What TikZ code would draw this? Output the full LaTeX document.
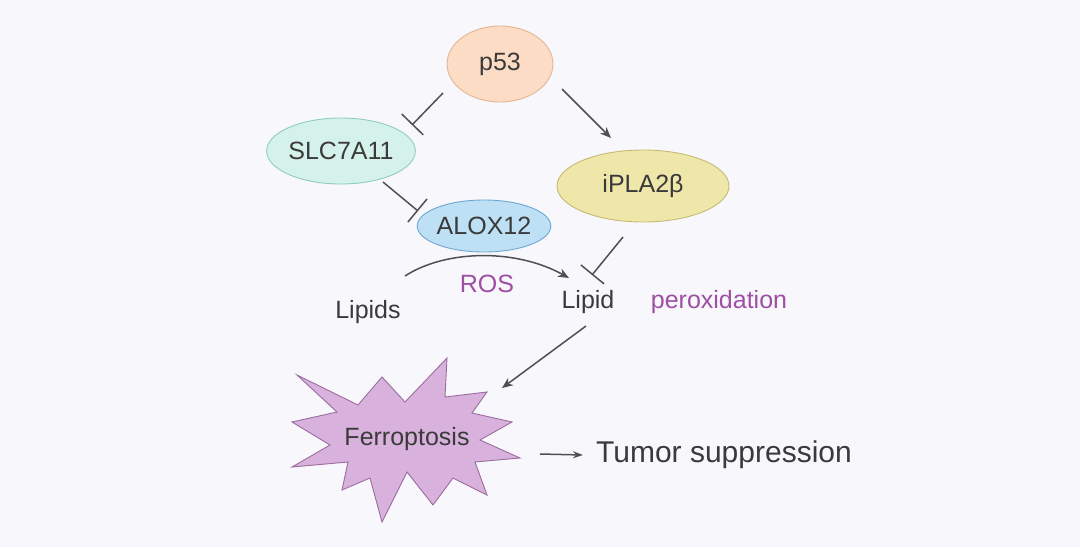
\documentclass[tikz,border=0pt]{standalone}
\usepackage{fontspec}
\setmainfont{Liberation Sans}
\usetikzlibrary{shapes.geometric,arrows.meta,calc}
\definecolor{bg}{HTML}{F8F8FC}
\definecolor{txt}{HTML}{3A3A3A}
\definecolor{ln}{HTML}{505050}
\definecolor{purp}{HTML}{9E4FA3}
\definecolor{peachF}{HTML}{FCDCC4}\definecolor{peachD}{HTML}{E2B595}
\definecolor{mintF}{HTML}{D5F2EA}\definecolor{mintD}{HTML}{8ECDBC}
\definecolor{blueF}{HTML}{BEE0F5}\definecolor{blueD}{HTML}{6FA7CF}
\definecolor{khakiF}{HTML}{EFE6AA}\definecolor{khakiD}{HTML}{C6BA72}
\definecolor{starF}{HTML}{D8B2DC}\definecolor{starD}{HTML}{9A6C9F}
\tikzset{
  bubble/.style={ellipse,draw,line width=0.9pt,inner sep=0pt,text=txt,font=\fontsize{25}{30}\selectfont},
  lbl/.style={inner sep=0pt,text=txt,font=\fontsize{25}{30}\selectfont},
  plbl/.style={inner sep=0pt,text=purp,font=\fontsize{25}{30}\selectfont},
  act/.style={draw=ln,line width=1.5pt,-{Stealth[length=11pt,width=9pt]}},
  inhib/.style={draw=ln,line width=1.5pt,-{Bar[width=30pt,line width=1.5pt]}},
  starshape/.style={fill=starF,draw=starD,line width=0.9pt,line join=miter}
}
\begin{document}
\begin{tikzpicture}[x=1pt,y=-1pt]
\fill[bg] (0,0) rectangle (1080,547);
\useasboundingbox (0,0) rectangle (1080,547);
% nodes
\node[bubble,fill=peachF,draw=peachD,minimum width=106pt,minimum height=76pt] (p53) at (500,64) {p53};
\node[bubble,fill=mintF,draw=mintD,minimum width=128pt,minimum height=66pt] (slc) at (341,151) {SLC7A11};
\node[bubble,fill=blueF,draw=blueD,minimum width=132pt,minimum height=52pt] (alox) at (484,226) {ALOX12};
\node[bubble,fill=khakiF,draw=khakiD,minimum width=172pt,minimum height=72pt] (ipla) at (643,186) {iPLA2\raisebox{0pt}{β}};
\node[lbl] (lipids) at (368,312) {Lipids};
\node[plbl] (ros) at (487,284) {ROS};
\node[lbl] (lipid) at (588,302) {Lipid};
\node[plbl] (perox) at (719,302) {peroxidation};
% star
\begin{scope}[shift={(407,439)}]
\draw[starshape] (-110,-64) -- (-49,-34) -- (-25,-62) -- (-2,-37) -- (40,-81) -- (38,-42)
  -- (80,-47) -- (65,-26) -- (105,-17) -- (73,1) -- (113,19) -- (68,23) -- (80,56)
  -- (46,39) -- (26,66) -- (0,33) -- (-25,83) -- (-37,39) -- (-65,51) -- (-59,23)
  -- (-115,28) -- (-77,6) -- (-115,-17) -- (-70,-27) -- cycle;
\end{scope}
\node[lbl] (ferro) at (407,439) {Ferroptosis};
\node[inner sep=0pt,text=txt,font=\fontsize{30}{36}\selectfont] (tumor) at (724,455) {Tumor suppression};
% connectors
\draw[inhib] ($(p53)+(-57,29)$) -- ($(slc)+(71,-26)$);
\draw[inhib] ($(slc)+(42,31)$) -- ($(alox)+(-66,-15)$);
\draw[act] ($(p53)+(62,25)$) -- ($(ipla)+(-32,-48)$);
\draw[inhib] ($(ipla)+(-20,51)$) -- ($(lipid)+(4,-27)$);
\draw[act] ($(lipids)+(37,-36)$) .. controls (445,250) and (515,248) .. ($(lipid)+(-19,-24)$);
\draw[act] ($(lipid)+(-2,24)$) -- ($(ferro)+(95,-51)$);
\draw[draw=ln,line width=1.5pt,-{Stealth[length=10pt,width=7pt]}] ($(ferro)+(133,15)$) -- ($(tumor.west)+(-13,0)$);
\end{tikzpicture}
\end{document}
